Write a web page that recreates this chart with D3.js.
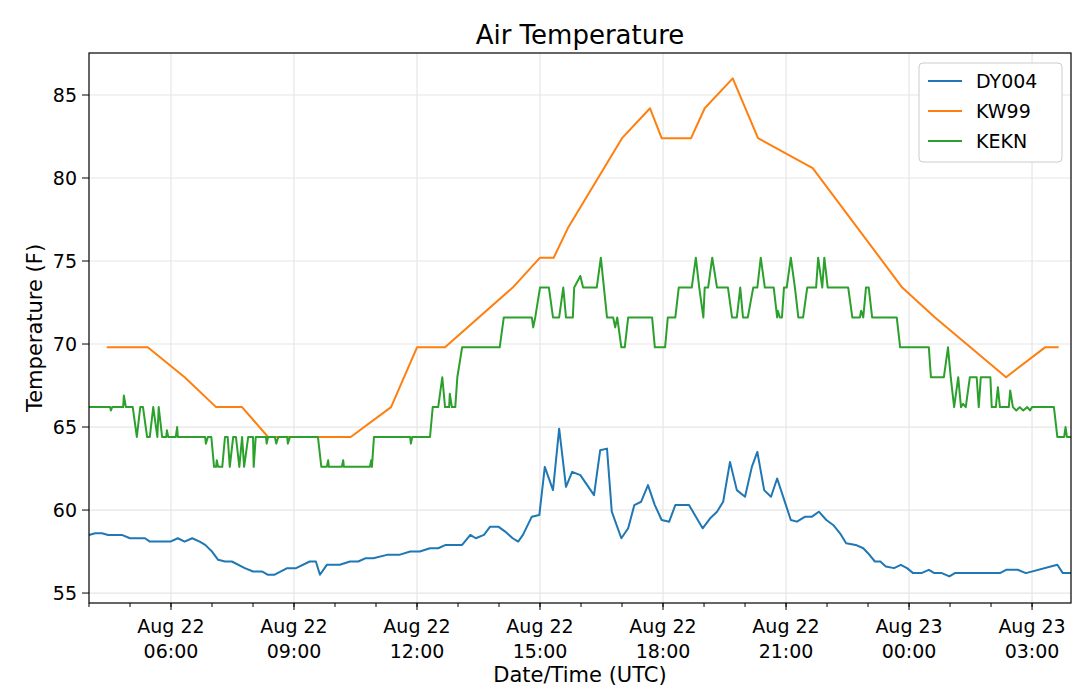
<!DOCTYPE html>
<html><head><meta charset="utf-8">
<script src="https://cdn.jsdelivr.net/npm/d3@7"></script>
<style>body{margin:0;background:#fff}svg{font-family:"DejaVu Sans",sans-serif}</style>
</head><body><svg id="c" width="1078" height="698"></svg>
<script>
// minutes after 2018-08-22 04:00 UTC
var kw99Min = [26,86,140,186,224,262,383,442,480,521,620,660,680,701,780,821,838,881,901,942,979,1059,1190,1238,1342,1399,1419]
var kw99Val = [69.8,69.8,68,66.2,66.2,64.4,64.4,66.2,69.8,69.8,73.4,75.2,75.2,77,82.4,84.2,82.4,82.4,84.2,86,82.4,80.6,73.4,71.6,68,69.8,69.8]

var keknMin = [0,31,32,34,50,51,54,64,70,75,79,85,89,94,100,102,107,113,114,116,127,129,130,170,171,174,179,183,186,187,
189,195,199,203,206,211,215,220,224,227,233,240,241,244,259,260,262,272,274,277,290,291,294,335,340,348,350,351,370,372,
373,411,413,414,417,470,471,473,499,503,511,517,521,527,528,531,536,539,546,587,601,607,648,650,653,660,673,679,688,694,
698,708,710,719,723,743,749,758,767,770,773,779,784,789,824,828,843,847,858,863,882,888,893,899,901,906,912,919,935,941,
948,953,957,964,972,978,983,989,1002,1007,1008,1011,1014,1017,1021,1027,1033,1038,1045,1051,1064,1067,1073,1076,1081,1111,1117,1128,1130,1133,
1137,1141,1146,1182,1187,1229,1232,1251,1257,1261,1266,1272,1276,1279,1283,1289,1299,1302,1305,1319,1321,1327,1330,1333,1346,1348,1352,1357,1362,1367,
1373,1377,1380,1412,1417,1427,1429,1431,1437]
var keknVal = [66.2,66.2,66,66.2,66.2,66.9,66.2,66.2,64.4,66.2,66.2,64.4,64.4,66.2,64.4,66.2,64.4,64.4,64.8,64.4,
64.4,65,64.4,64.4,64,64.4,64.4,62.6,62.6,63,62.6,62.6,64.4,64.4,62.6,64.4,64.4,62.6,64.4,62.6,
64.4,64.4,62.6,64.4,64.4,64,64.4,64.4,64,64.4,64.4,64,64.4,64.4,62.6,62.6,63,62.6,62.6,63,
62.6,62.6,63,62.6,64.4,64.4,64,64.4,64.4,66.2,66.2,68,66.2,66.2,67,66.2,66.2,68,69.8,69.8,
69.8,71.6,71.6,71,71.6,73.4,73.4,71.6,71.6,73.4,71.6,71.6,73.4,74.1,73.4,73.4,75.2,71.6,71.6,71,
71.6,69.8,69.8,71.6,71.6,69.8,69.8,71.6,71.6,73.4,73.4,75.2,73.4,71.6,73.4,73.4,75.2,73.4,73.4,71.6,
71.6,73.4,71.6,71.6,73.4,73.4,75.2,73.4,73.4,71.6,72,71.6,71.6,73.4,73.4,75.2,73.4,71.6,71.6,73.4,
73.4,75.2,73.4,75.2,73.4,73.4,71.6,71.6,72,71.6,73.4,73.4,71.6,71.6,69.8,69.8,68,68,69.8,68,
66.2,68,66.2,66.4,66.2,68,68,66.2,68,68,66.2,66.2,67.4,66.2,66.2,67.2,66.2,66,66.2,66,
66.2,66,66.2,66.2,64.4,64.4,65,64.4,64.4]

var dyMin = [0,9,19,28,48,60,82,89,119,130,140,151,162,170,180,189,199,209,228,240,253,262,271,290,303,323,332,338,348,367,
382,394,405,416,436,454,470,484,499,511,522,546,558,566,578,587,599,609,620,628,635,648,659,667,679,688,698,707,719,729,
739,748,758,765,779,789,798,808,818,828,838,849,858,878,898,909,919,928,938,948,960,970,978,988,998,1007,1019,1027,1036,1048,
1058,1068,1079,1089,1099,1108,1122,1133,1140,1150,1158,1166,1178,1188,1197,1206,1218,1229,1237,1248,1259,1267,1333,1342,1359,1371,1417,1425,1437]
var dyVal = [58.5,58.6,58.6,58.5,58.5,58.3,58.3,58.1,58.1,58.3,58.1,58.3,58.1,57.9,57.5,57.0,56.9,56.9,56.5,56.3,56.3,56.1,56.1,56.5,56.5,56.9,56.9,56.1,56.7,56.7,
56.9,56.9,57.1,57.1,57.3,57.3,57.5,57.5,57.7,57.7,57.9,57.9,58.5,58.3,58.5,59.0,59.0,58.7,58.3,58.1,58.5,59.6,59.7,62.6,61.2,64.9,61.4,62.3,62.1,61.5,
60.9,63.6,63.7,59.9,58.3,58.9,60.3,60.5,61.5,60.3,59.4,59.3,60.3,60.3,58.9,59.5,59.9,60.5,62.9,61.2,60.8,62.6,63.5,61.2,60.8,61.9,60.4,59.4,59.3,59.6,
59.6,59.9,59.4,59.1,58.6,58.0,57.9,57.7,57.4,56.9,56.9,56.6,56.5,56.7,56.5,56.2,56.2,56.4,56.2,56.2,56.0,56.2,56.2,56.4,56.4,56.2,56.7,56.2,56.2]

var seriesNames = ['DY004', 'KW99', 'KEKN']
var colors = ['#1f77b4', '#ff7f0e', '#2ca02c']
var yTicks = [55, 60, 65, 70, 75, 80, 85]

var base = Date.UTC(2018, 7, 22, 4, 0)
var toPts = (m, v) => m.map((d, i) => ({t: new Date(base + d * 60000), v: v[i]}))
var series = [toPts(dyMin, dyVal), toPts(kw99Min, kw99Val), toPts(keknMin, keknVal)]

var L = 89, R = 1071, T = 53, B = 603
var svg = d3.select('#c')
var x = d3.scaleUtc().domain([new Date(base), new Date(base + 1437 * 60000)]).range([L, R])
var y = d3.scaleLinear().domain([54.4, 87.53]).range([B, T])

var majors = d3.utcHour.every(3).range(new Date(base + 7200000), new Date(base + 1438 * 60000))
var minors = d3.utcHour.every(1).range(new Date(base), new Date(base + 1438 * 60000))

// grid
svg.append('g').selectAll('line').data(majors).join('line')
    .attr('x1', d => x(d)).attr('x2', d => x(d)).attr('y1', T).attr('y2', B)
    .attr('stroke', '#e6e6e6').attr('stroke-width', 1.2)
svg.append('g').selectAll('line').data(yTicks).join('line')
    .attr('x1', L).attr('x2', R).attr('y1', d => y(d)).attr('y2', d => y(d))
    .attr('stroke', '#e6e6e6').attr('stroke-width', 1.2)

var line = d3.line().x(d => x(d.t)).y(d => y(d.v))
series.forEach((s, i) => {
    svg.append('path').datum(s).attr('d', line).attr('fill', 'none')
        .attr('stroke', colors[i]).attr('stroke-width', 2).attr('stroke-linejoin', 'round')
})

svg.append('rect').attr('x', L).attr('y', T).attr('width', R - L).attr('height', B - T)
    .attr('fill', 'none').attr('stroke', '#000').attr('stroke-width', 1.2)

// x axis
var fmt = d3.utcFormat('%H:%M')
var gx = svg.append('g').attr('transform', `translate(0,${B})`)
gx.selectAll('.mn').data(minors).join('line').attr('x1', d => x(d)).attr('x2', d => x(d))
    .attr('y1', 0).attr('y2', 4).attr('stroke', '#000')
gx.selectAll('.mj').data(majors).join('line').attr('x1', d => x(d)).attr('x2', d => x(d))
    .attr('y1', 0).attr('y2', 7).attr('stroke', '#000')
var lab = gx.selectAll('text').data(majors).join('text').attr('text-anchor', 'middle')
    .attr('font-size', 19).attr('fill', '#000')
lab.append('tspan').attr('x', d => x(d)).attr('y', 30).text(d => d3.utcFormat('Aug %d')(d))
lab.append('tspan').attr('x', d => x(d)).attr('y', 55).text(d => fmt(d))

// y axis
var gy = svg.append('g')
gy.selectAll('line').data(yTicks).join('line').attr('x1', L - 7).attr('x2', L)
    .attr('y1', d => y(d)).attr('y2', d => y(d)).attr('stroke', '#000')
gy.selectAll('text').data(yTicks).join('text').attr('x', L - 12).attr('y', d => y(d) + 7)
    .attr('text-anchor', 'end').attr('font-size', 19).text(d => d)

svg.append('text').attr('x', (L + R) / 2).attr('y', 44).attr('text-anchor', 'middle')
    .attr('font-size', 26).text('Air Temperature')
svg.append('text').attr('x', (L + R) / 2).attr('y', 682).attr('text-anchor', 'middle')
    .attr('font-size', 21).text('Date/Time (UTC)')
svg.append('text').attr('transform', `translate(42,${(T + B) / 2}) rotate(-90)`)
    .attr('text-anchor', 'middle').attr('font-size', 21).text('Temperature (F)')

// legend
var lg = svg.append('g').attr('transform', 'translate(919,63)')
lg.append('rect').attr('width', 143).attr('height', 99).attr('rx', 4)
    .attr('fill', '#fff').attr('stroke', '#ccc')
seriesNames.forEach((n, i) => {
    lg.append('line').attr('x1', 9).attr('x2', 43).attr('y1', 18 + i * 30).attr('y2', 18 + i * 30)
        .attr('stroke', colors[i]).attr('stroke-width', 2)
    lg.append('text').attr('x', 57).attr('y', 25 + i * 30).attr('font-size', 19).text(n)
})
</script></body></html>
